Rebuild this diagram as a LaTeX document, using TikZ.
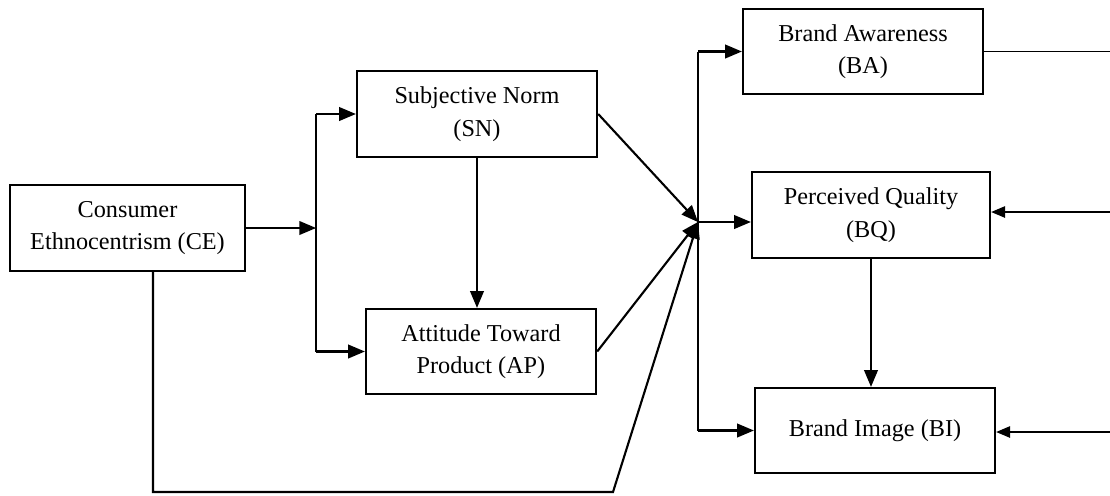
\documentclass[tikz,border=0pt]{standalone}
\usepackage{fontspec}
\setmainfont{Liberation Serif}
\usetikzlibrary{arrows}

\tikzset{
  box/.style={draw, line width=1.4pt, align=center, inner sep=2pt,
    font=\fontsize{13.8}{18.5}\selectfont},
  conn/.style={line width=1.2pt, -triangle 45},
  line/.style={line width=1.2pt}
}

\begin{document}
\begin{tikzpicture}[x=0.02cm, y=-0.02cm]
  \useasboundingbox (0,0) rectangle (1110,495);
  % boxes
  \node [box, minimum width=4.7cm, minimum height=1.72cm] (ce) at (127.5,228) {Consumer\\Ethnocentrism (CE)};
  \node [box, minimum width=4.8cm, minimum height=1.72cm] (sn) at (477,114) {Subjective Norm\\(SN)};
  \node [box, minimum width=4.6cm, minimum height=1.7cm] (ap) at (481,351.5) {Attitude Toward\\Product (AP)};
  \node [box, minimum width=4.8cm, minimum height=1.7cm] (ba) at (863,51.5) {Brand Awareness\\(BA)};
  \node [box, minimum width=4.76cm, minimum height=1.72cm] (bq) at (871,215) {Perceived Quality\\(BQ)};
  \node [box, minimum width=4.8cm, minimum height=1.7cm] (bi) at (875,430.5) {Brand Image (BI)};

  \coordinate (split) at (316,228);
  \coordinate (hub) at (698,222);
  \coordinate (ceDown) at (153,492);
  \coordinate (ceBend) at (613,492);
  \coordinate (edgeBA) at (1110,51.5);
  \coordinate (edgeBQ) at (1110,212);
  \coordinate (edgeBI) at (1110,432);

  % left side
  \draw [conn] (ce.east) -- (split);
  \draw [line] (split |- sn.west) -- (split |- ap.west);
  \draw [conn] (split |- sn.west) -- (sn.west);
  \draw [conn] (split |- ap.west) -- (ap.west);
  \draw [conn] (sn.south) -- (sn.south |- ap.north);

  % into the hub
  \draw [conn] (sn.east) -- (hub);
  \draw [conn] (ap.east) -- (hub);
  \draw [conn] (ce.south -| ceDown) -- (ceDown) -- (ceBend) -- (hub);

  % out of the hub
  \draw [line] (hub |- ba.west) -- (hub |- bi.west);
  \draw [conn] (hub |- ba.west) -- (ba.west);
  \draw [conn] (hub) -- (hub -| bq.west);
  \draw [conn] (hub |- bi.west) -- (bi.west);
  \draw [conn] (bq.south) -- (bq.south |- bi.north);

  % right edge
  \draw [line, line width=0.8pt] (ba.east) -- (edgeBA);
  \draw [conn, line width=0.8pt] (edgeBQ) -- (edgeBQ -| bq.east);
  \draw [conn, line width=0.8pt] (edgeBI) -- (edgeBI -| bi.east);
\end{tikzpicture}
\end{document}
